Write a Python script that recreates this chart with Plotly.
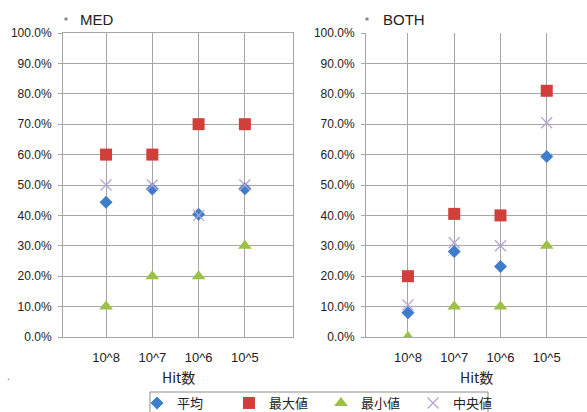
import plotly.graph_objects as go

categories = ["10^8", "10^7", "10^6", "10^5"]
panels = ["MED", "BOTH"]
series_names = ["平均", "最大値", "最小値", "中央値"]

med_mean = [44.3, 48.7, 40.4, 48.8]
med_max = [60.0, 60.0, 70.0, 70.0]
med_min = [10.0, 20.0, 20.0, 30.0]
med_median = [50.0, 50.0, 40.0, 50.0]

both_mean = [8.0, 28.1, 23.2, 59.4]
both_max = [20.0, 40.5, 40.0, 81.0]
both_min = [0.0, 10.0, 10.0, 30.0]
both_median = [10.5, 31.0, 30.0, 70.5]

y_ticks = [0, 10, 20, 30, 40, 50, 60, 70, 80, 90, 100]
y_ticktext = [f"{v:.1f}%" for v in y_ticks]
x_title = "Hit数"

styles = [
    dict(symbol="diamond", size=10, color="#3D7DCB", line=dict(width=0)),
    dict(symbol="square", size=12, color="#D23E3A", line=dict(width=0)),
    dict(symbol="triangle-up", size=12, color="#9BC244", line=dict(width=0)),
    dict(symbol="x-thin-open", size=11, color="#B4A4D4", line=dict(width=1.3, color="#B4A4D4")),
]

data = {
    "MED": [med_mean, med_max, med_min, med_median],
    "BOTH": [both_mean, both_max, both_min, both_median],
}

W, H = 587, 412
def px_x(p): return p / W
def px_y(p): return 1 - p / H

fig = go.Figure()
GRID = "#A6A6A6"
font_main = "Liberation Sans, Noto Sans CJK JP, sans-serif"

for pi, panel in enumerate(panels):
    xa = "x" if pi == 0 else "x2"
    ya = "y" if pi == 0 else "y2"
    for si, name in enumerate(series_names):
        fig.add_trace(go.Scatter(
            x=list(range(len(categories))), y=data[panel][si],
            mode="markers", name=name, marker=styles[si],
            showlegend=(pi == 0), xaxis=xa, yaxis=ya,
            legendgroup=name,
        ))

axis_common_x = dict(
    tickmode="array", tickvals=list(range(len(categories))), ticktext=categories,
    showgrid=True, gridcolor=GRID, gridwidth=1, zeroline=False,
    showline=True, linecolor=GRID, linewidth=1,
    ticks="outside", ticklen=8, tickcolor="rgba(0,0,0,0)",
    tickfont=dict(family=font_main, size=13, color="#222"),
    fixedrange=True,
)
axis_common_y = dict(
    range=[0, 100], tickmode="array", tickvals=y_ticks, ticktext=y_ticktext,
    showgrid=True, gridcolor=GRID, gridwidth=1, zeroline=False,
    showline=True, linecolor=GRID, linewidth=1,
    ticks="outside", ticklen=4, tickcolor=GRID, ticklabelstandoff=4,
    tickfont=dict(family=font_main, size=12, color="#222"),
    fixedrange=True,
)

fig.update_layout(
    width=W, height=H, margin=dict(l=0, r=0, t=0, b=0, autoexpand=False),
    paper_bgcolor="white", plot_bgcolor="white",
    xaxis=dict(axis_common_x, domain=[px_x(63), px_x(293)], range=[-0.93, 4.04], mirror=True, anchor="y"),
    yaxis=dict(axis_common_y, domain=[px_y(337), px_y(33)], mirror=True, anchor="x"),
    xaxis2=dict(axis_common_x, domain=[px_x(366), 1.0], range=[-0.907, 3.87], mirror=False, anchor="y2"),
    yaxis2=dict(axis_common_y, domain=[px_y(337), px_y(33)], mirror=False, anchor="x2"),
    showlegend=True,
    legend=dict(
        orientation="h", x=px_x(137), y=px_y(388), xanchor="left", yanchor="top",
        borderwidth=0, bgcolor="rgba(0,0,0,0)",
        font=dict(family="Noto Sans CJK JP, sans-serif", size=13, color="#222"),
        itemwidth=30, entrywidth=47, tracegroupgap=0,
    ),
)

# legend frame (extends past bottom edge as in the reference)
fig.add_shape(type="rect", xref="paper", yref="paper",
              x0=px_x(150), x1=px_x(488), y0=px_y(420), y1=px_y(392),
              line=dict(color="#8C8C8C", width=1), fillcolor="rgba(0,0,0,0)", layer="below")

# axis titles
for cx in [178, 476]:
    fig.add_annotation(text=x_title, x=px_x(cx), y=px_y(377), xref="paper", yref="paper",
                       showarrow=False, xanchor="center", yanchor="middle",
                       font=dict(family="Noto Sans CJK JP, sans-serif", size=14, color="#222"))

# panel titles
for (mx, tx, label) in [(66, 78, panels[0]), (367, 381, panels[1])]:
    fig.add_shape(type="rect", xref="paper", yref="paper",
                  x0=px_x(mx - 1.5), x1=px_x(mx + 1.5), y0=px_y(20.5), y1=px_y(17.5),
                  fillcolor="#888", line=dict(width=0))
    fig.add_annotation(text=label, x=px_x(tx), y=px_y(20), xref="paper", yref="paper",
                       showarrow=False, xanchor="left", yanchor="middle",
                       font=dict(family=font_main, size=15, color="#222"))

fig.add_annotation(text=".", x=px_x(8), y=px_y(376), xref="paper", yref="paper",
                   showarrow=False, xanchor="center", yanchor="middle",
                   font=dict(family=font_main, size=10, color="#555"))

fig.write_html("out.html")
